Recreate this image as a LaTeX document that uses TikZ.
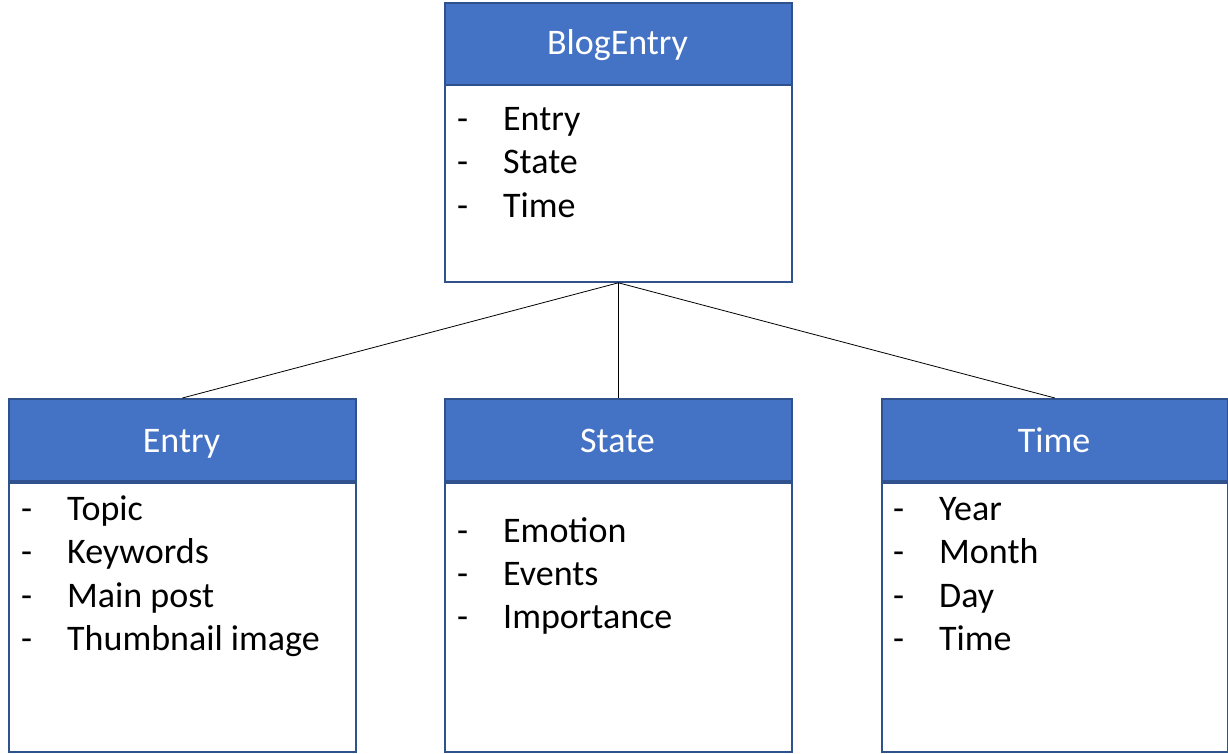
\documentclass[tikz,border=0pt]{standalone}
\usepackage{fontspec}
\setmainfont{Carlito}
\definecolor{hdrc}{HTML}{4472C4}
\definecolor{bordc}{HTML}{2F528F}
\begin{document}
\begin{tikzpicture}[x=1pt,y=-1pt,
 hdr/.style={draw=bordc, fill=hdrc, line width=1.8pt, minimum width=347pt, minimum height=82pt, anchor=north west, inner sep=0pt},
 bodyb/.style={draw=bordc, fill=white, line width=1.8pt, minimum width=347pt, anchor=north west, inner sep=0pt},
 htxt/.style={text=white, anchor=base, inner sep=0pt, font=\fontsize{36}{43}\selectfont},
 item/.style={anchor=base west, inner sep=0pt, font=\fontsize{36}{43}\selectfont},
 link/.style={draw=black, line width=0.8pt}]
\useasboundingbox (0,0) rectangle (1228,754);
% top
\node[bodyb, minimum height=197pt] (bb) at (444,84) {};
\node[hdr] (bh) at (444,2) {};
\node[htxt] (bt) at (617.5,55) {BlogEntry};
\node[item] (b1) at (457,131) {\makebox[46pt][l]{-}Entry};
\node[item] (b2) at (457,174) {\makebox[46pt][l]{-}State};
\node[item] (b3) at (457,217) {\makebox[46pt][l]{-}Time};
% entry
\node[bodyb, minimum height=269pt] (eb) at (8,482) {};
\node[hdr] (eh) at (8,398) {};
\node[htxt] (et) at (181.5,452) {Entry};
\node[item] (e1) at (21,520) {\makebox[46pt][l]{-}Topic};
\node[item] (e2) at (21,563) {\makebox[46pt][l]{-}Keywords};
\node[item] (e3) at (21,607) {\makebox[46pt][l]{-}Main post};
\node[item] (e4) at (21,650) {\makebox[46pt][l]{-}Thumbnail image};
% state
\node[bodyb, minimum height=269pt] (sb) at (444,482) {};
\node[hdr] (sh) at (444,398) {};
\node[htxt] (st) at (617.5,452) {State};
\node[item] (s1) at (457,542) {\makebox[46pt][l]{-}Emotion};
\node[item] (s2) at (457,585) {\makebox[46pt][l]{-}Events};
\node[item] (s3) at (457,628) {\makebox[46pt][l]{-}Importance};
% time
\node[bodyb, minimum height=269pt, minimum width=346pt] (tb) at (881,482) {};
\node[hdr, minimum width=346pt] (th) at (881,398) {};
\node[htxt] (tt) at (1054,452) {Time};
\node[item] (t1) at (893,520) {\makebox[46pt][l]{-}Year};
\node[item] (t2) at (893,563) {\makebox[46pt][l]{-}Month};
\node[item] (t3) at (893,607) {\makebox[46pt][l]{-}Day};
\node[item] (t4) at (893,650) {\makebox[46pt][l]{-}Time};
% connectors
\draw[link] (bb.south) -- (eh.north);
\draw[link] (bb.south) -- (sh.north);
\draw[link] (bb.south) -- (th.north);
\end{tikzpicture}
\end{document}
